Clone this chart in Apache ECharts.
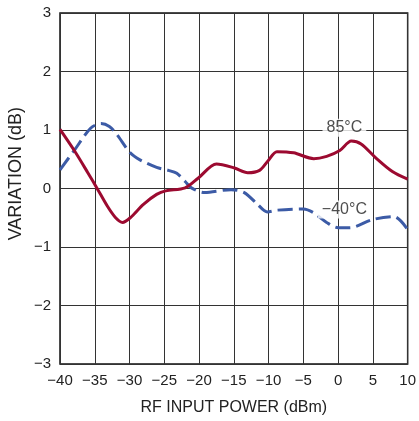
<!DOCTYPE html>
<html>
<head>
<meta charset="utf-8">
<script src="https://cdn.jsdelivr.net/npm/echarts@6/dist/echarts.min.js"></script>
<style>
  html, body { margin: 0; padding: 0; background: #fff; }
  #chart { width: 419px; height: 421px; }
</style>
</head>
<body>
<div id="chart"></div>
<script>
// RF input power (dBm) and gain variation (dB) at 85°C
const hotPower = [-40, -37.9, -36, -34.7, -33.2, -32, -31, -29.9, -28, -26.1, -24.8, -22, -20.1, -17.5, -14.9, -13, -11.3, -10.1, -8.8, -6.4, -3.5, -1.65, 0.24, 1.9, 3.3, 5.45, 7.8, 10];
const hotVariation = [1.01, 0.64, 0.27, 0.01, -0.3, -0.5, -0.58, -0.5, -0.27, -0.1, -0.04, 0.01, 0.18, 0.42, 0.35, 0.27, 0.31, 0.47, 0.63, 0.61, 0.51, 0.55, 0.65, 0.81, 0.76, 0.52, 0.29, 0.16];

// RF input power (dBm) and gain variation (dB) at −40°C
const coldPower = [-40, -37.9, -35.6, -34.1, -32.9, -31.8, -29.9, -28.5, -26.1, -24.4, -23.2, -22, -21.1, -19.2, -15.4, -13.5, -11.6, -10.2, -8.75, -5, -3.6, -1.65, 0, 1.65, 5, 8.05, 10];
const coldVariation = [0.32, 0.66, 1.03, 1.11, 1.06, 0.92, 0.61, 0.49, 0.36, 0.31, 0.26, 0.12, 0.01, -0.07, -0.02, -0.07, -0.27, -0.4, -0.37, -0.35, -0.41, -0.58, -0.67, -0.67, -0.53, -0.48, -0.7];

// Curve labels: text, power, variation
const curveLabels = [
  ['85°C', 0.9, 1.04],
  ['\u221240°C', 0.9, -0.36]
];

const FONT = '"Liberation Sans", Arial, sans-serif';
const minus = v => String(v).replace('-', '\u2212');
const pairs = (xs, ys) => xs.map((x, i) => [x, ys[i]]);

const chart = echarts.init(document.getElementById('chart'), null, { renderer: 'canvas' });

chart.setOption({
  animation: false,
  backgroundColor: '#fff',
  grid: {
    left: 60, top: 13, width: 352, height: 352,
    show: true, borderColor: '#111', borderWidth: 1.5, backgroundColor: 'transparent'
  },
  xAxis: {
    type: 'value', min: -40, max: 10, interval: 5,
    name: 'RF INPUT POWER (dBm)', nameLocation: 'middle', nameGap: 36,
    nameTextStyle: { fontFamily: FONT, fontSize: 16, color: '#222' },
    axisLine: { show: false }, axisTick: { show: false },
    axisLabel: { formatter: minus, fontFamily: FONT, fontSize: 15, color: '#222', margin: 9 },
    splitLine: { show: true, lineStyle: { color: '#333', width: 1 } }
  },
  yAxis: {
    type: 'value', min: -3, max: 3, interval: 1,
    axisLine: { show: false }, axisTick: { show: false },
    axisLabel: { formatter: minus, fontFamily: FONT, fontSize: 15, color: '#222', margin: 9 },
    splitLine: { show: true, lineStyle: { color: '#333', width: 1 } }
  },
  graphic: [{
    type: 'text', left: 7, top: 107, rotation: Math.PI / 2,
    style: { text: 'VARIATION (dB)', font: '18px ' + FONT, fill: '#222' }
  }],
  series: [
    {
      type: 'line', smooth: 0.3, symbol: 'none', z: 3,
      data: pairs(coldPower, coldVariation),
      lineStyle: { color: '#3c5ba6', width: 3, type: [15, 6] }
    },
    {
      type: 'line', smooth: 0.3, symbol: 'none', z: 4,
      data: pairs(hotPower, hotVariation),
      lineStyle: { color: '#9c0a30', width: 3 }
    },
    {
      type: 'scatter', symbolSize: 0, z: 5,
      data: curveLabels.map(l => ({ value: [l[1], l[2]], name: l[0] })),
      label: {
        show: true, position: 'inside', formatter: p => p.name,
        fontFamily: FONT, fontSize: 16, color: '#222',
        backgroundColor: '#fff', padding: [1, 4]
      }
    }
  ]
});
</script>
</body>
</html>
